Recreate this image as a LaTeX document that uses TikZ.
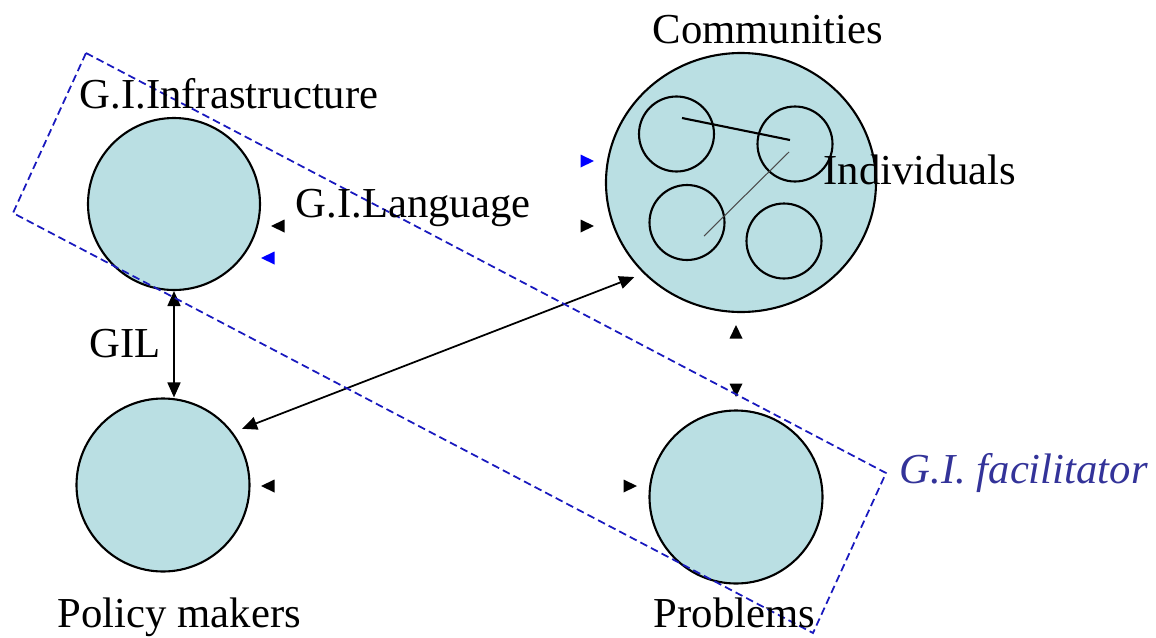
\documentclass[tikz,border=0pt]{standalone}
\usepackage{fontspec}
\setmainfont{Liberation Serif}
\usetikzlibrary{arrows.meta,shapes.geometric}
\definecolor{discfill}{RGB}{186,223,227}
\definecolor{facilblue}{RGB}{25,25,190}
\definecolor{faciltext}{RGB}{51,51,153}
\newcommand\arrowhead[3][black]{%
  \fill[#1,shift={(#2)},rotate=#3] (7,0) -- (-6.5,-6.5) -- (-6.5,6.5) -- cycle;}
\begin{document}
\begin{tikzpicture}[x=0.1mm,y=-0.1mm,
  disc/.style={circle,draw,line width=0.6pt,fill=discfill,inner sep=0pt,minimum size=17.2mm},
  member/.style={circle,draw,line width=0.6pt,inner sep=0pt,minimum size=7.5mm},
  lbl/.style={inner sep=0pt,anchor=base west,font=\fontsize{12.15}{14}\selectfont},
  link/.style={line width=0.5pt,{Triangle[length=1.5mm,width=1.3mm]}-{Triangle[length=1.5mm,width=1.3mm]}},
  facil/.style={draw=facilblue,line width=0.5pt,dash pattern=on 2.2pt off 1.2pt}]
\useasboundingbox (0,0) rectangle (1156,637);
% the four groups
\node[disc] (infra) at (174,204) {};
\node[disc,minimum size=17.3mm] (pm) at (163,485) {};
\node[disc,minimum size=17.3mm] (prob) at (736,497) {};
\node[ellipse,draw,line width=0.6pt,fill=discfill,inner sep=0pt,
  minimum width=27mm,minimum height=25.9mm] (com) at (741,182.5) {};
% individuals inside the community
\node[member] (ind1) at (676.5,134) {};
\node[member] (ind2) at (795,144) {};
\node[member] (ind3) at (687,222.5) {};
\node[member] (ind4) at (784,241) {};
\coordinate (tie1a) at (682,118);
\coordinate (tie1b) at (790,140);
\coordinate (tie2a) at (789,152);
\coordinate (tie2b) at (704,236);
\draw[line width=0.6pt] (tie1a) -- (tie1b);
\draw[line width=0.3pt,black!70] (tie2a) -- (tie2b);
% links
\draw[link] (infra.south) -- (infra.south |- pm.north);
\draw[link,shorten <=2.8pt,shorten >=2.8pt] (pm.37) -- (com.223);
% loose heads
\arrowhead{278,226}{180}
\arrowhead[blue]{268,258}{180}
\arrowhead{587,226}{0}
\arrowhead[blue]{587,161}{0}
\arrowhead{268,486}{180}
\arrowhead{630,486}{0}
\arrowhead{736,332}{90}
\arrowhead{736,390}{-90}
% facilitator frame
\draw[facil] (86,53) -- (886,473) -- (813,633) -- (13,213) -- cycle;
% labels
\node[lbl] (tcom) at (652,43) {Communities};
\node[lbl] (tinfra) at (79,108) {G.I.Infrastructure};
\node[lbl] (tind) at (823,184) {Individuals};
\node[lbl] (tlang) at (295,217) {G.I.Language};
\node[lbl] (tgil) at (89,357) {GIL};
\node[lbl] (tpm) at (57,627) {Policy makers};
\node[lbl] (tprob) at (653,627) {Problems};
\node[lbl,text=faciltext,font=\fontsize{12.15}{14}\selectfont\itshape] (tfacil) at (899,483) {G.I. facilitator};
\end{tikzpicture}
\end{document}
